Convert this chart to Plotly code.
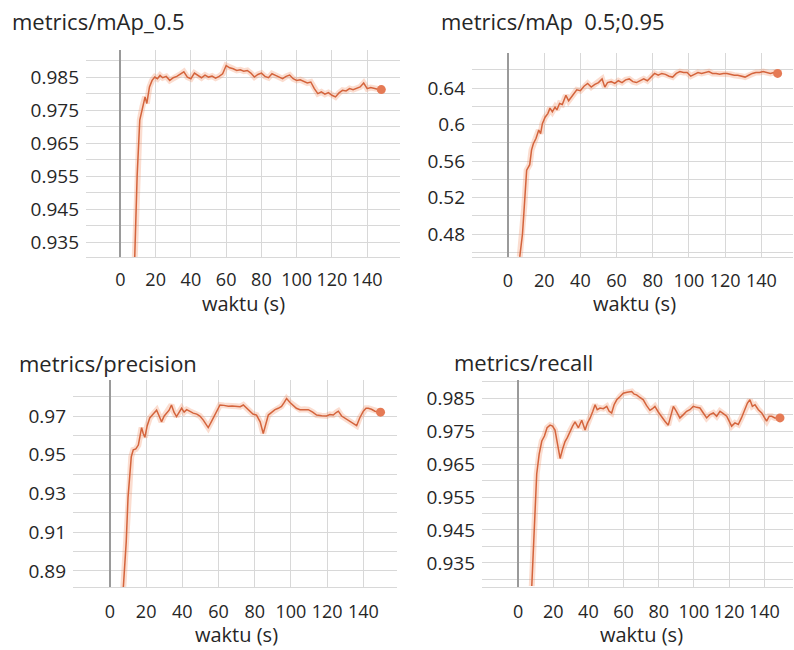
import plotly.graph_objects as go

# ---------------- data ----------------
map50_x = [8, 9.5, 11, 12.5, 14, 15, 16.5, 18, 19.5, 21, 22.5, 24, 26, 28, 30, 32, 34, 36, 38, 40,
           42, 44, 46, 48, 50, 52, 54, 56, 58, 60, 62, 64, 66, 68, 70, 72, 74, 76, 78, 80,
           82, 84, 86, 88, 90, 92, 94, 96, 98, 100, 102, 104, 106, 108, 110, 112, 114, 116, 118, 120,
           122, 124, 126, 128, 130, 132, 134, 136, 138, 140, 142, 144, 146, 148]
map50_y = [0.928, 0.955, 0.972, 0.976, 0.979, 0.977, 0.982, 0.984, 0.985, 0.9845, 0.9855, 0.9848, 0.9852, 0.9840, 0.9848, 0.9852, 0.9858, 0.9866, 0.9850, 0.9845,
           0.9862, 0.9855, 0.9848, 0.9856, 0.9850, 0.9853, 0.9847, 0.9852, 0.9860, 0.9885, 0.9878, 0.9875, 0.9870, 0.9872, 0.9868, 0.9870, 0.9862, 0.9850, 0.9858, 0.9862,
           0.9852, 0.9848, 0.9860, 0.9855, 0.9850, 0.9845, 0.9852, 0.9856, 0.9845, 0.9840, 0.9842, 0.9838, 0.9832, 0.9835, 0.9815, 0.9800, 0.9805, 0.9798, 0.9803, 0.9795,
           0.9790, 0.9802, 0.9810, 0.9808, 0.9815, 0.9812, 0.9817, 0.9820, 0.9832, 0.9815, 0.9818, 0.9815, 0.9813, 0.9812]

map5095_x = [6.5, 8, 9, 10.3, 12, 13, 14, 15.5, 17, 18, 19, 20.5, 22, 23.2, 24.5, 26, 27, 28.5, 30, 32,
             33.5, 35, 36.5, 38, 40, 42, 44, 46, 48, 50, 52, 53.5, 55, 57, 59, 61, 63, 65, 67, 69,
             71, 73, 75, 77, 79, 81, 83, 85, 87, 89, 91, 93, 95, 97, 99, 101, 103, 105, 107, 109,
             111, 113, 115, 117, 119, 121, 123, 125, 127, 129, 131, 133, 135, 137, 139, 141, 143, 145, 147, 149]
map5095_y = [0.455, 0.48, 0.51, 0.55, 0.556, 0.572, 0.579, 0.585, 0.594, 0.590, 0.601, 0.608, 0.612, 0.618, 0.614, 0.619, 0.616, 0.623, 0.622, 0.632,
             0.626, 0.630, 0.634, 0.638, 0.637, 0.642, 0.645, 0.641, 0.644, 0.646, 0.650, 0.641, 0.646, 0.647, 0.645, 0.648, 0.646, 0.649, 0.650, 0.647,
             0.646, 0.648, 0.650, 0.648, 0.652, 0.656, 0.654, 0.656, 0.655, 0.653, 0.652, 0.656, 0.658, 0.657, 0.657, 0.653, 0.655, 0.657, 0.656, 0.657,
             0.658, 0.656, 0.656, 0.655, 0.656, 0.656, 0.655, 0.654, 0.654, 0.653, 0.652, 0.654, 0.656, 0.657, 0.657, 0.658, 0.657, 0.656, 0.657, 0.656]

prec_x = [7.3, 9, 10, 11.8, 12.9, 14.3, 15.7, 16.6, 17.5, 18.4, 19.3, 20.6, 22, 23.9, 25.8, 27.2, 28.5, 30, 31.3, 32.7,
          34, 35.4, 36.8, 38.2, 39.6, 41, 42.4, 44, 46, 48, 49.7, 51.5, 53, 54.3, 56, 58, 59.5, 60.8, 63, 65.4,
          67.5, 70, 72, 73.7, 75.5, 77.4, 79, 81, 83, 84.7, 86, 87.5, 89.5, 91.2, 93, 94.8, 96.3, 97.6, 99.5, 101.3,
          103, 105, 107.5, 109.6, 112, 114.2, 117, 119.7, 121.5, 123.4, 125, 126.2, 128, 129.8, 131.5, 133.5, 135, 136.3, 138, 140,
          141.5, 142.7, 144.5, 146.4, 148, 149.5]
prec_y = [0.880, 0.905, 0.928, 0.949, 0.9525, 0.953, 0.955, 0.960, 0.964, 0.961, 0.959, 0.965, 0.969, 0.971, 0.973, 0.970, 0.967, 0.970, 0.9715, 0.973,
          0.9757, 0.972, 0.9697, 0.972, 0.974, 0.972, 0.9733, 0.9725, 0.9715, 0.971, 0.970, 0.968, 0.966, 0.964, 0.967, 0.9705, 0.973, 0.9757, 0.9755, 0.975,
          0.9752, 0.975, 0.9748, 0.9757, 0.974, 0.9725, 0.971, 0.9705, 0.967, 0.961, 0.965, 0.9705, 0.972, 0.9733, 0.974, 0.975, 0.977, 0.979, 0.977, 0.9757,
          0.974, 0.9733, 0.9735, 0.9733, 0.972, 0.9705, 0.9702, 0.970, 0.9708, 0.9705, 0.9718, 0.9725, 0.970, 0.969, 0.968, 0.967, 0.966, 0.965, 0.969, 0.9725,
          0.974, 0.974, 0.9735, 0.9725, 0.9722, 0.972]

rec_x = [7.8, 9, 10.6, 12, 13.5, 15, 16.5, 18.2, 19.6, 21, 22.5, 23.9, 25.3, 26.7, 28, 29.5, 31, 32.4, 34.3, 36.2,
         38.1, 39.5, 41, 42.5, 43.8, 45, 46.6, 48.5, 50.4, 51.8, 53.2, 54.6, 56.1, 58, 59.8, 62, 64.6, 66, 67.4, 69.3,
         71.2, 73, 75, 76.4, 77.8, 79.7, 81.6, 83.5, 85.4, 86.8, 88.3, 90, 92, 94, 95.8, 97.7, 99.6, 101.5, 103.4, 105.3,
         107.2, 109, 111, 112.9, 114.8, 116.7, 118.6, 120, 121.4, 123.3, 125.2, 127, 129, 130.4, 131.8, 133.2, 134.7, 136.6, 138.5, 140,
         141.3, 142.8, 144.2, 146, 148.9]
rec_y = [0.928, 0.945, 0.962, 0.968, 0.972, 0.9735, 0.976, 0.9768, 0.9765, 0.9753, 0.971, 0.9667, 0.9695, 0.9718, 0.973, 0.975, 0.9765, 0.9778, 0.976, 0.9783,
         0.9753, 0.9775, 0.979, 0.981, 0.983, 0.9815, 0.982, 0.9818, 0.9825, 0.981, 0.9805, 0.983, 0.9845, 0.9855, 0.9865, 0.9868, 0.987, 0.9862, 0.986, 0.9852,
         0.9845, 0.9828, 0.9813, 0.9818, 0.9825, 0.9808, 0.9793, 0.978, 0.9768, 0.980, 0.9825, 0.981, 0.979, 0.980, 0.981, 0.9815, 0.9825, 0.9822, 0.982, 0.9805,
         0.979, 0.980, 0.9805, 0.9795, 0.981, 0.9803, 0.9795, 0.978, 0.9765, 0.9775, 0.977, 0.979, 0.9815, 0.9835, 0.9845, 0.9825, 0.983, 0.9815, 0.9805, 0.979,
         0.978, 0.9795, 0.9795, 0.979, 0.979]

x_ticks = [0, 20, 40, 60, 80, 100, 120, 140]
map50_ticks = [0.935, 0.945, 0.955, 0.965, 0.975, 0.985]
map5095_ticks = [0.48, 0.52, 0.56, 0.60, 0.64]
map5095_ticktext = ["0.48", "0.52", "0.56", "0.6", "0.64"]
prec_ticks = [0.89, 0.91, 0.93, 0.95, 0.97]
rec_ticks = [0.935, 0.945, 0.955, 0.965, 0.975, 0.985]

titles = ["metrics/mAp_0.5", "metrics/mAp\u00a0\u00a00.5;0.95", "metrics/precision", "metrics/recall"]
x_title = "waktu (s)"

# ---------------- layout helpers (pixel geometry of a 794x650 page) ----------------
W, H = 794, 650
FONT = "Open Sans"
TXT = "#262626"
GRID = "#d8d8d8"
LINE = "#d4643c"
GLOW = "rgba(244,150,110,0.32)"
XTICK_SIZE = 18
YTICK_SIZE = 19
TITLE_SIZE = 22
XTITLE_SIZE = 20

panels = [
    dict(xs=map50_x, ys=map50_y, px=(86, 400), py=(50, 257), xr=[-19.5, 158.6], yr=[0.9305, 0.9932],
         ytv=map50_ticks, ytt=None, ydt=0.005, title=titles[0], tpos=(10, 21), ttl_y=304, tick_y=279),
    dict(xs=map5095_x, ys=map5095_y, px=(472, 793), py=(53, 257), xr=[-19.9, 157.5], yr=[0.4548, 0.6784],
         ytv=map5095_ticks, ytt=map5095_ticktext, ydt=0.02, title=titles[1], tpos=(439, 21), ttl_y=304, tick_y=280),
    dict(xs=prec_x, ys=prec_y, px=(73, 397), py=(380, 587), xr=[-20.4, 158.6], yr=[0.8817, 0.9886],
         ytv=prec_ticks, ytt=None, ydt=0.01, title=titles[2], tpos=(17, 363), ttl_y=634, tick_y=611),
    dict(xs=rec_x, ys=rec_y, px=(482, 793), py=(380, 587), xr=[-20.5, 156.3], yr=[0.9277, 0.9905],
         ytv=rec_ticks, ytt=None, ydt=0.005, title=titles[3], tpos=(452, 362), ttl_y=634, tick_y=611),
]

fig = go.Figure()
annotations = []
layout_axes = {}

for i, p in enumerate(panels, start=1):
    xa = "x" if i == 1 else f"x{i}"
    ya = "y" if i == 1 else f"y{i}"
    fig.add_trace(go.Scatter(x=p["xs"], y=p["ys"], mode="lines", xaxis=xa, yaxis=ya,
                             line=dict(color=GLOW, width=6), hoverinfo="skip", showlegend=False))
    fig.add_trace(go.Scatter(x=p["xs"], y=p["ys"], mode="lines", xaxis=xa, yaxis=ya,
                             line=dict(color=LINE, width=1.5), showlegend=False))
    fig.add_trace(go.Scatter(x=[p["xs"][-1]], y=[p["ys"][-1]], mode="markers", xaxis=xa, yaxis=ya,
                             marker=dict(color="#e57a55", size=9), showlegend=False, cliponaxis=False))

    dx = [p["px"][0] / W, p["px"][1] / W]
    dy = [1 - p["py"][1] / H, 1 - p["py"][0] / H]
    sx = "xaxis" if i == 1 else f"xaxis{i}"
    sy = "yaxis" if i == 1 else f"yaxis{i}"
    layout_axes[sx] = dict(
        domain=dx, range=p["xr"], anchor=ya, tickmode="array", tickvals=x_ticks,
        showgrid=True, gridcolor=GRID, gridwidth=1,
        minor=dict(tickmode="linear", tick0=0, dtick=20, showgrid=True, gridcolor=GRID, ticks=""),
        zeroline=True, zerolinecolor="#9a9a9a", zerolinewidth=1.8,
        showline=True, linecolor=GRID, ticks="", tickangle=0,
        tickfont=dict(family=FONT, size=XTICK_SIZE, color=TXT),
        ticklabelstandoff=max(0, p["tick_y"] - p["py"][1] - 16),
        fixedrange=True, automargin=False,
    )
    ydict = dict(
        domain=dy, range=p["yr"], anchor=xa, tickmode="array", tickvals=p["ytv"],
        showgrid=True, gridcolor=GRID, gridwidth=1,
        minor=dict(tickmode="linear", tick0=p["ytv"][0], dtick=p["ydt"], showgrid=True, gridcolor=GRID, ticks=""),
        zeroline=False, showline=False, ticks="",
        tickfont=dict(family=FONT, size=YTICK_SIZE, color=TXT),
        ticklabelstandoff=6,
        fixedrange=True, automargin=False,
    )
    if p["ytt"] is not None:
        ydict["ticktext"] = p["ytt"]
    layout_axes[sy] = ydict

    annotations.append(dict(text=p["title"], x=p["tpos"][0] / W, y=1 - p["tpos"][1] / H,
                            xref="paper", yref="paper", xanchor="left", yanchor="middle",
                            showarrow=False, font=dict(family=FONT, size=TITLE_SIZE, color=TXT)))
    x0pix = p["px"][0] + (0 - p["xr"][0]) / (p["xr"][1] - p["xr"][0]) * (p["px"][1] - p["px"][0])
    x140pix = p["px"][0] + (140 - p["xr"][0]) / (p["xr"][1] - p["xr"][0]) * (p["px"][1] - p["px"][0])
    annotations.append(dict(text=x_title, x=(x0pix + x140pix) / 2 / W, y=1 - p["ttl_y"] / H,
                            xref="paper", yref="paper", xanchor="center", yanchor="middle",
                            showarrow=False, font=dict(family=FONT, size=XTITLE_SIZE, color=TXT)))

fig.update_layout(
    width=W, height=H, margin=dict(l=0, r=0, t=0, b=0),
    paper_bgcolor="white", plot_bgcolor="white",
    annotations=annotations, showlegend=False,
    **layout_axes,
)

fig.write_html("out.html", config=dict(displayModeBar=False),
               post_script="document.body.style.margin='0';document.body.style.overflow='hidden';")
